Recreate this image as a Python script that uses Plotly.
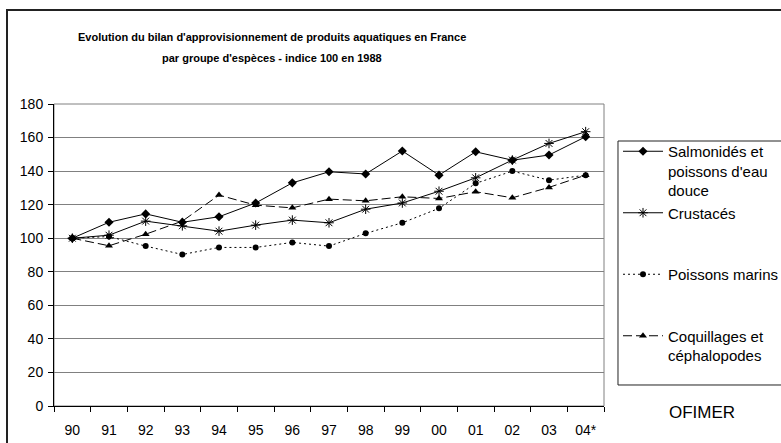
import plotly.graph_objects as go

years = ["90", "91", "92", "93", "94", "95", "96", "97", "98", "99", "00", "01", "02", "03", "04*"]
salmonides = [100, 109.5, 114.5, 109.5, 112.8, 121, 133, 139.6, 138.3, 152, 137.6, 151.5, 146.5, 149.6, 160.5]
crustaces = [100, 101.8, 110.2, 107.4, 104.2, 107.8, 110.8, 109.2, 117.3, 121, 128, 136, 146.6, 156.5, 163.5]
poissons_marins = [100, 101, 95.3, 90.3, 94.5, 94.5, 97.5, 95.3, 102.9, 109.2, 117.8, 132.7, 140, 134.6, 137.6]
coquillages = [100, 95.5, 102.4, 110.2, 125.7, 119.7, 118.1, 123.3, 122.3, 124.7, 123.7, 127.7, 124.1, 130.3, 137.6]

series_names = [
    "Salmonidés et<br>poissons d'eau<br>douce",
    "Crustacés<br> <br> ",
    "Poissons marins<br> <br> ",
    "Coquillages et<br>céphalopodes",
]
y_ticks = [0, 20, 40, 60, 80, 100, 120, 140, 160, 180]
title_lines = ["Evolution du bilan d'approvisionnement de produits aquatiques en France",
               "par groupe d'espèces - indice 100 en 1988"]
source = "OFIMER"

FONT = "Arial, Liberation Sans, sans-serif"

fig = go.Figure()
fig.add_trace(go.Scatter(x=years, y=salmonides, name=series_names[0], mode="lines+markers",
                         line=dict(color="black", width=1),
                         marker=dict(symbol="diamond", size=7, color="black"), legendgroup="a"))
fig.add_trace(go.Scatter(x=years, y=crustaces, name=series_names[1], mode="lines+markers",
                         line=dict(color="black", width=1),
                         marker=dict(symbol="asterisk-open", size=8, color="black",
                                     line=dict(color="black", width=1)), legendgroup="b"))
fig.add_trace(go.Scatter(x=years, y=poissons_marins, name=series_names[2], mode="lines+markers",
                         line=dict(color="black", width=1, dash="2px,3px"),
                         marker=dict(symbol="circle", size=6, color="black"), legendgroup="c"))
fig.add_trace(go.Scatter(x=years, y=coquillages, name=series_names[3], mode="lines+markers",
                         line=dict(color="black", width=1, dash="9px,4px"),
                         marker=dict(symbol="triangle-up", size=7, color="black"), legendgroup="d"))

L, R, T, B = 54, 177, 104, 37
W, H = 781, 443
pw, ph = W - L - R, H - T - B

def px(x):
    return (x - L) / pw

def py(y):
    return (H - B - y) / ph

def path(points):
    return "M " + " L ".join(f"{px(a):.5f},{py(b):.5f}" for a, b in points)

fig.update_layout(
    width=W, height=H,
    margin=dict(l=L, r=R, t=T, b=B, autoexpand=False),
    paper_bgcolor="white", plot_bgcolor="white",
    font=dict(family=FONT, color="black", size=14),
    showlegend=True,
    legend=dict(x=px(618), y=py(135), xanchor="left", yanchor="top",
                borderwidth=0, bgcolor="rgba(0,0,0,0)",
                font=dict(family=FONT, size=15, color="black"),
                valign="top", tracegroupgap=0, itemwidth=40,
                traceorder="normal"),
    xaxis=dict(type="category", categoryorder="array", categoryarray=years,
               range=[-0.5, len(years) - 0.5], ticks="outside", tickson="boundaries",
               ticklen=5, tickcolor="black", showline=True, linecolor="black", linewidth=1,
               showgrid=False, ticklabelstandoff=11,
               tickfont=dict(family=FONT, size=14, color="black")),
    yaxis=dict(range=[0, 180], tickvals=y_ticks, ticks="outside", ticklen=5, tickcolor="black",
               showline=True, linecolor="black", linewidth=1, showgrid=True,
               gridcolor="#808080", gridwidth=1, zeroline=False, ticklabelstandoff=2,
               tickfont=dict(family=FONT, size=14, color="black")),
    shapes=[
        dict(type="rect", xref="paper", yref="paper", x0=0, x1=1, y0=0, y1=1,
             line=dict(color="#808080", width=1), layer="below"),
        dict(type="path", xref="paper", yref="paper", path=path([(7, 443), (7, 10), (781, 10)]),
             line=dict(color="#222222", width=2), layer="below"),
        dict(type="path", xref="paper", yref="paper",
             path=path([(781, 141), (618, 141), (618, 385), (781, 385)]),
             line=dict(color="#222222", width=1), layer="below"),
    ],
    annotations=[
        dict(text="<b>" + title_lines[0] + "</b>",
             xref="paper", yref="paper", x=px(272), y=py(37), xanchor="center", yanchor="middle",
             showarrow=False, font=dict(family=FONT, size=11, color="black")),
        dict(text="<b>" + title_lines[1] + "</b>",
             xref="paper", yref="paper", x=px(272), y=py(58), xanchor="center", yanchor="middle",
             showarrow=False, font=dict(family=FONT, size=11, color="black")),
        dict(text=source, xref="paper", yref="paper", x=px(702), y=py(412),
             xanchor="center", yanchor="middle", showarrow=False,
             font=dict(family=FONT, size=17, color="black")),
    ],
)

fig.write_html("out.html", post_script="document.body.style.margin='0';",
               config={"displayModeBar": False})
